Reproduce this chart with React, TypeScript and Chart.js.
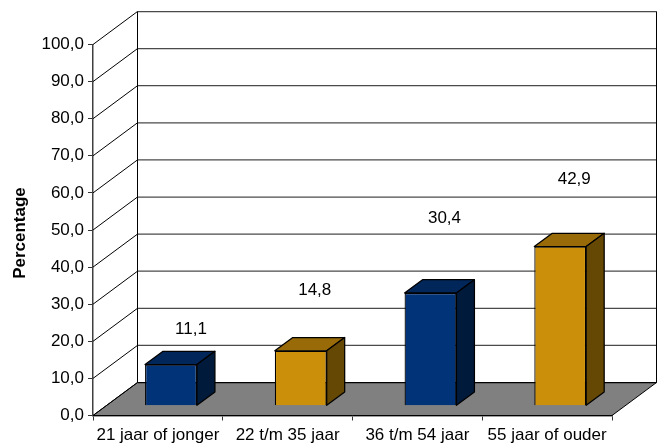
import React, { useEffect, useRef } from "react";
import { Chart, registerables } from "chart.js";

Chart.register(...registerables);

const categories = ["21 jaar of jonger", "22 t/m 35 jaar", "36 t/m 54 jaar", "55 jaar of ouder"];
const percentages = [11.1, 14.8, 30.4, 42.9];
// height, on the value axis, of the floating value labels
const labelLevels = [23.1, 33.7, 53.1, 63.6];
const labelShifts = [11, 5, 5, 5];
const frontColors = ["#003378", "#CC8F0A", "#003378", "#CC8F0A"];
const topColors = ["#00265A", "#996B08", "#00265A", "#996B08"];
const sideColors = ["#001A3C", "#664805", "#001A3C", "#664805"];
const axisTitle = "Percentage";

const FONT = "'Liberation Sans', Arial, sans-serif";
const FONT_SIZE = 17;
const WALL_DX = 44.5;
const WALL_DY = 33;
const BAR_OFFSET = 0.295;
const BAR_DEPTH = 0.404;
const comma = (v: number) => v.toFixed(1).replace(".", ",");

const threeD = {
  id: "threeD",
  beforeDatasetsDraw(chart: any) {
    const { ctx, chartArea: a, scales } = chart;
    const y = scales.y;
    const base = y.getPixelForValue(0);
    const top = y.getPixelForValue(100);
    ctx.save();
    ctx.beginPath();
    ctx.moveTo(a.left, base);
    ctx.lineTo(a.left + WALL_DX, base - WALL_DY);
    ctx.lineTo(a.right + WALL_DX, base - WALL_DY);
    ctx.lineTo(a.right, base);
    ctx.closePath();
    ctx.fillStyle = "#808080";
    ctx.fill();
    ctx.lineWidth = 1;
    ctx.strokeStyle = "#000";
    ctx.stroke();
    y.ticks.forEach((t: any) => {
      const p = y.getPixelForValue(t.value);
      ctx.beginPath();
      ctx.moveTo(a.left, p);
      ctx.lineTo(a.left + WALL_DX, p - WALL_DY);
      ctx.strokeStyle = "#000";
      ctx.lineWidth = 1;
      ctx.stroke();
      ctx.beginPath();
      ctx.moveTo(a.left + WALL_DX, p - WALL_DY);
      ctx.lineTo(a.right + WALL_DX, p - WALL_DY);
      ctx.strokeStyle = t.value === 0 ? "#000" : "#4a4a4a";
      ctx.lineWidth = 1.25;
      ctx.stroke();
    });
    ctx.beginPath();
    ctx.moveTo(a.left + WALL_DX, top - WALL_DY);
    ctx.lineTo(a.left + WALL_DX, base - WALL_DY);
    ctx.moveTo(a.right + WALL_DX, top - WALL_DY);
    ctx.lineTo(a.right + WALL_DX, base - WALL_DY);
    ctx.strokeStyle = "#000";
    ctx.lineWidth = 1;
    ctx.stroke();
    ctx.restore();
  },
  beforeDatasetDraw(chart: any, args: any) {
    const { ctx } = chart;
    const ox = WALL_DX * BAR_OFFSET;
    const oy = -WALL_DY * BAR_OFFSET;
    const dx = WALL_DX * BAR_DEPTH;
    const dy = -WALL_DY * BAR_DEPTH;
    ctx.save();
    ctx.translate(ox, oy);
    args.meta.data.forEach((bar: any, i: number) => {
      const l = bar.x - bar.width / 2;
      const r = bar.x + bar.width / 2;
      const t = bar.y;
      const b = bar.base;
      ctx.lineWidth = 1.25;
      ctx.strokeStyle = "#000";
      ctx.lineJoin = "round";
      ctx.fillStyle = topColors[i];
      ctx.beginPath();
      ctx.moveTo(l, t);
      ctx.lineTo(l + dx, t + dy);
      ctx.lineTo(r + dx, t + dy);
      ctx.lineTo(r, t);
      ctx.closePath();
      ctx.fill();
      ctx.stroke();
      ctx.fillStyle = sideColors[i];
      ctx.beginPath();
      ctx.moveTo(r, t);
      ctx.lineTo(r + dx, t + dy);
      ctx.lineTo(r + dx, b + dy);
      ctx.lineTo(r, b);
      ctx.closePath();
      ctx.fill();
      ctx.stroke();
    });
  },
  afterDatasetDraw(chart: any) {
    chart.ctx.restore();
  },
  afterDraw(chart: any) {
    const { ctx, scales } = chart;
    ctx.save();
    ctx.fillStyle = "#000";
    ctx.font = `${FONT_SIZE}px ${FONT}`;
    ctx.textAlign = "center";
    ctx.textBaseline = "middle";
    percentages.forEach((v, i) => {
      const cx = scales.x.getPixelForValue(i) + WALL_DX * (BAR_OFFSET + BAR_DEPTH / 2) + labelShifts[i];
      ctx.fillText(comma(v), cx, scales.y.getPixelForValue(labelLevels[i]));
    });
    ctx.translate(20, 233);
    ctx.rotate(-Math.PI / 2);
    ctx.font = `bold ${FONT_SIZE}px ${FONT}`;
    ctx.fillText(axisTitle, 0, 0);
    ctx.restore();
  },
};

export default function App() {
  const ref = useRef<HTMLCanvasElement>(null);
  useEffect(() => {
    document.body.style.margin = "0";
    const chart = new Chart(ref.current!, {
      type: "bar",
      data: {
        labels: categories,
        datasets: [
          {
            data: percentages,
            backgroundColor: frontColors,
            borderColor: "#000",
            borderWidth: 1.25,
            barPercentage: 0.4,
            categoryPercentage: 1,
            clip: false,
          } as any,
        ],
      },
      options: {
        responsive: false,
        animation: false,
        events: [],
        layout: { padding: { left: 0, top: 44.5, right: 49, bottom: 0 } },
        plugins: { legend: { display: false }, tooltip: { enabled: false }, title: { display: false } },
        scales: {
          x: {
            afterFit: (s: any) => {
              s.height = 27.5;
            },
            grid: { drawOnChartArea: false, tickLength: 5, color: "#333", tickWidth: 1 },
            border: { color: "#404040", width: 1.5 },
            ticks: { color: "#000", font: { family: FONT, size: FONT_SIZE }, padding: 5, maxRotation: 0, autoSkip: false },
          },
          y: {
            min: 0,
            max: 100,
            afterFit: (s: any) => {
              s.width = 93;
            },
            grid: { drawOnChartArea: false, tickLength: 5, color: "#333", tickWidth: 1 },
            border: { color: "#404040", width: 1.5 },
            ticks: {
              stepSize: 10,
              color: "#000",
              padding: 4,
              font: { family: FONT, size: FONT_SIZE },
              callback: (v: any) => comma(Number(v)),
            },
          },
        },
      },
      plugins: [threeD],
    } as any);
    return () => chart.destroy();
  }, []);
  return <canvas ref={ref} width={661} height={443} style={{ display: "block", width: 661, height: 443 }} />;
}
